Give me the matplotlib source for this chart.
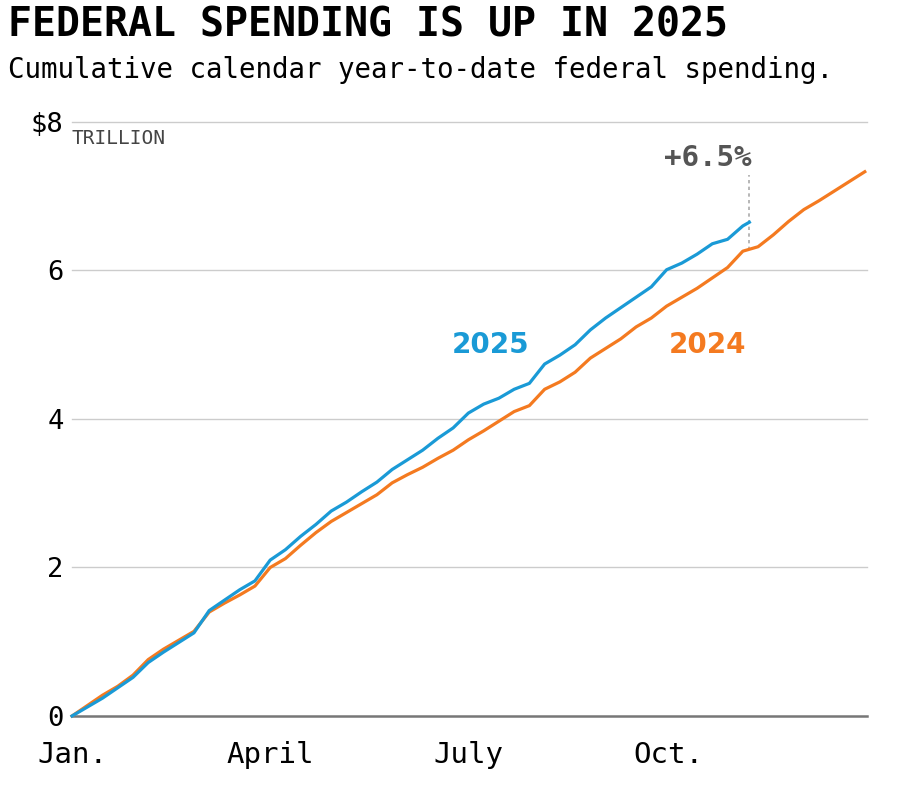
import matplotlib.pyplot as plt

# weekly readings of cumulative federal spending, $ trillion (day of year, Jan 1 = 0)
days_2024 = list(range(0, 365, 7))
spend_2024 = [0.00, 0.14, 0.28, 0.40, 0.55, 0.76, 0.90, 1.02, 1.14, 1.40,
              1.52, 1.63, 1.75, 2.00, 2.12, 2.30, 2.47, 2.62, 2.74, 2.86,
              2.98, 3.14, 3.25, 3.35, 3.47, 3.58, 3.72, 3.84, 3.97, 4.10,
              4.18, 4.40, 4.50, 4.63, 4.82, 4.95, 5.08, 5.24, 5.36, 5.52,
              5.64, 5.76, 5.90, 6.04, 6.26, 6.32, 6.48, 6.66, 6.82, 6.94,
              7.07, 7.20, 7.33]

days_2025 = list(range(0, 309, 7)) + [311]
spend_2025 = [0.00, 0.12, 0.24, 0.38, 0.52, 0.72, 0.86, 0.99, 1.12, 1.42,
              1.56, 1.70, 1.82, 2.10, 2.24, 2.42, 2.58, 2.76, 2.88, 3.02,
              3.15, 3.32, 3.45, 3.58, 3.74, 3.88, 4.08, 4.20, 4.28, 4.40,
              4.48, 4.74, 4.86, 5.00, 5.20, 5.36, 5.50, 5.64, 5.78, 6.01,
              6.10, 6.22, 6.36, 6.42, 6.60, 6.65]

month_ticks = [0, 91, 182, 274]
month_labels = ['Jan.', 'April', 'July', 'Oct.']
y_ticks = [0, 2, 4, 6, 8]
y_labels = ['0', '2', '4', '6', '$8']
change_label = '+6.5%'

blue = '#1a9ad6'
orange = '#f47a20'
mono = 'DejaVu Sans Mono'

fig = plt.figure(figsize=(9, 7.85), dpi=100)
ax = fig.add_axes([0.08, 0.0879, 0.8833, 0.7567])

ax.plot(days_2024, spend_2024, color=orange, lw=2.3, clip_on=False, zorder=3)
ax.plot(days_2025, spend_2025, color=blue, lw=2.3, clip_on=False, zorder=4)

ax.set_xlim(0, 365)
ax.set_ylim(0, 8)
ax.set_yticks(y_ticks)
ax.set_yticklabels(y_labels, fontsize=19.5, family=mono)
ax.set_xticks(month_ticks)
ax.set_xticklabels(month_labels, fontsize=21, family=mono)
ax.tick_params(length=0)
ax.tick_params(axis='y', pad=6)
ax.tick_params(axis='x', pad=18)
for t in y_ticks[1:]:
    ax.axhline(t, color='#cccccc', lw=1, zorder=1, clip_on=False)
for s in ['top', 'right', 'left']:
    ax.spines[s].set_visible(False)
ax.spines['bottom'].set_color('#777777')
ax.spines['bottom'].set_linewidth(1.8)

ax.text(0, 7.78, 'TRILLION', fontsize=14, family=mono, color='#444444', va='center')

ax.text(192, 5.0, '2025', color=blue, fontsize=20, fontweight='bold', ha='center', va='center')
ax.text(292, 5.0, '2024', color=orange, fontsize=20, fontweight='bold', ha='center', va='center')

end_day = days_2025[-1]
ax.plot([end_day, end_day], [6.27, 7.29], color='#aaaaaa', lw=1.2, ls=(0, (2, 2)), zorder=2)
ax.text(end_day + 1, 7.52, change_label, color='#555555', fontsize=21, family=mono,
        fontweight='bold', ha='right', va='center')

fig.text(0.009, 0.953, 'FEDERAL SPENDING IS UP IN 2025', fontsize=28.7, family=mono,
         fontweight='bold', va='baseline')
fig.text(0.009, 0.9006, 'Cumulative calendar year-to-date federal spending.', fontsize=19.8,
         family=mono, va='baseline')

fig.savefig('out.png', dpi=100)
